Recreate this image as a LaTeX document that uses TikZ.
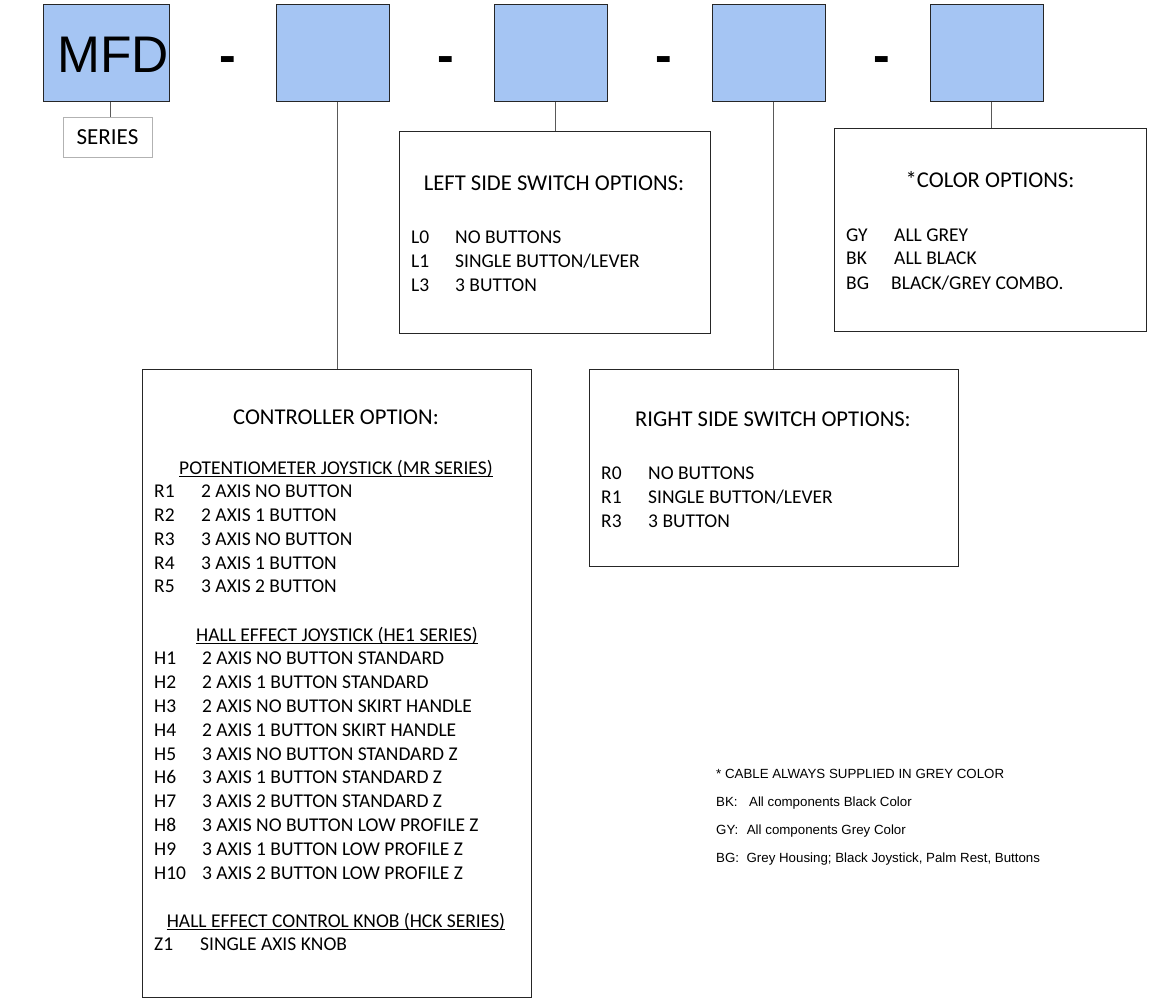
\documentclass[tikz,border=0pt]{standalone}
\usepackage{fontspec}
\setmainfont{Carlito}
\newfontfamily\arialfont{Liberation Sans}
\definecolor{partblue}{RGB}{165,197,243}
\begin{document}
\begin{tikzpicture}[x=1pt,y=-1pt,
  partbox/.style={draw=black!85,line width=1.3pt,fill=partblue,minimum width=113pt,minimum height=97pt,inner sep=0pt,anchor=north west},
  optbox/.style={draw=black!85,line width=1.2pt,inner sep=0pt,anchor=north west},
  opt/.style={anchor=base west,inner sep=0pt,font=\fontsize{19.5}{23}\selectfont},
  ttl/.style={anchor=base,inner sep=0pt,font=\fontsize{22.6}{27}\selectfont},
  note/.style={anchor=base west,inner sep=0pt,font=\arialfont\fontsize{13.3}{16}\selectfont},
  link/.style={draw=black!65,line width=0.9pt}]
 \useasboundingbox[fill=white] (0,0) rectangle (1149,1000);
 % part number boxes
 \node[partbox,minimum width=126pt] (mfd) at (43,4) {};
 \node[anchor=base west,inner sep=0pt,font=\arialfont\fontsize{51.5}{60}\selectfont] (mfdtxt) at (57,73) {MFD};
 \node[partbox] (b2) at (276,4) {}; \node[partbox] (b3) at (494,4) {};
 \node[partbox] (b4) at (712,4) {}; \node[partbox] (b5) at (930,4) {};
 \foreach \x [count=\i] in {228,446,664,882}
  \node[anchor=base,inner sep=0pt,font=\arialfont\bfseries\fontsize{50}{60}\selectfont] (d\i) at (\x,73) {-};
 \node[draw=black!30,line width=0.9pt,minimum width=89pt,minimum height=40pt,inner sep=0pt,font=\fontsize{23}{27}\selectfont] (series) at (107.5,137) {SERIES};
 % option boxes
 \node[optbox,minimum width=311pt,minimum height=202pt] (left) at (399,131) {};
 \node[optbox,minimum width=312pt,minimum height=203pt] (color) at (834,128) {};
 \node[optbox,minimum width=389pt,minimum height=628pt] (ctl) at (142,369) {};
 \node[optbox,minimum width=369pt,minimum height=197pt] (right) at (589,369) {};
 % connectors
 \draw[link] ([xshift=4pt]mfd.south) -- ([xshift=4pt]mfd.south |- series.north);
 \draw[link] ([xshift=4pt]b2.south) -- ([xshift=4pt]b2.south |- ctl.north);
 \draw[link] ([xshift=4pt]b3.south) -- ([xshift=4pt]b3.south |- left.north);
 \draw[link] ([xshift=4pt]b4.south) -- ([xshift=4pt]b4.south |- right.north);
 \draw[link] ([xshift=4pt]b5.south) -- ([xshift=4pt]b5.south |- color.north);
 % left side switch
 \node[ttl] (lttl) at (554,191) {LEFT SIDE SWITCH OPTIONS:};
 \foreach \c/\t [count=\i] in {L0/NO BUTTONS,L1/{SINGLE BUTTON/LEVER},L3/3 BUTTON}{
  \node[opt] (l\i) at (411,{220+24*\i}) {\c}; \node[opt] (lt\i) at (455,{220+24*\i}) {\t};}
 % color
 \node[ttl] (cttl) at (990,188) {*COLOR OPTIONS:};
 \foreach \c/\t/\x/\y [count=\i] in {GY/ALL GREY/894/242,BK/ALL BLACK/894/265,BG/{BLACK/GREY COMBO.}/891/290}{
  \node[opt] (c\i) at (846,\y) {\c}; \node[opt] (ct\i) at (\x,\y) {\t};}
 % right side switch
 \node[ttl] (rttl) at (773,426) {RIGHT SIDE SWITCH OPTIONS:};
 \foreach \c/\t [count=\i] in {R0/NO BUTTONS,R1/{SINGLE BUTTON/LEVER},R3/3 BUTTON}{
  \node[opt] (rr\i) at (601,{455+24*\i}) {\c}; \node[opt] (rrt\i) at (648,{455+24*\i}) {\t};}
 % controller
 \node[ttl] (kttl) at (336,424) {CONTROLLER OPTION:};
 \node[opt,anchor=base] (pot) at (336,474) {POTENTIOMETER JOYSTICK (MR SERIES)};
 \foreach \t [count=\i] in {2 AXIS NO BUTTON,2 AXIS 1 BUTTON,3 AXIS NO BUTTON,3 AXIS 1 BUTTON,3 AXIS 2 BUTTON}{
  \node[opt] (r\i) at (154,{474+23.75*\i}) {R\i}; \node[opt] (rt\i) at (201,{474+23.75*\i}) {\t};}
 \node[opt,anchor=base] (hall) at (337,641) {HALL EFFECT JOYSTICK (HE1 SERIES)};
 \foreach \t [count=\i] in {2 AXIS NO BUTTON STANDARD,2 AXIS 1 BUTTON STANDARD,2 AXIS NO BUTTON SKIRT HANDLE,
   2 AXIS 1 BUTTON SKIRT HANDLE,3 AXIS NO BUTTON STANDARD Z,3 AXIS 1 BUTTON STANDARD Z,3 AXIS 2 BUTTON STANDARD Z,
   3 AXIS NO BUTTON LOW PROFILE Z,3 AXIS 1 BUTTON LOW PROFILE Z,3 AXIS 2 BUTTON LOW PROFILE Z}{
  \node[opt] (h\i) at (154,{641+23.8*\i}) {H\i}; \node[opt] (ht\i) at (202,{641+23.8*\i}) {\t};}
 \node[opt,anchor=base] (knob) at (336,927) {HALL EFFECT CONTROL KNOB (HCK SERIES)};
 \node[opt] (z1) at (154,950) {Z1}; \node[opt] (zt1) at (200,950) {SINGLE AXIS KNOB};
 \foreach \n in {pot,hall,knob}
  \draw[line width=0.8pt] ([yshift=-2pt]\n.base west) -- ([yshift=-2pt]\n.base east);
 % notes
 \node[note] (n1) at (716,778.5) {* CABLE ALWAYS SUPPLIED IN GREY COLOR};
 \node[note] (n2) at (716,806.5) {BK:\hspace{11.5pt}All components Black Color};
 \node[note] (n3) at (716,834.5) {GY:\hspace{8.5pt}All components Grey Color};
 \node[note] (n4) at (716,862.5) {BG:\hspace{7.5pt}Grey Housing; Black Joystick, Palm Rest, Buttons};
\end{tikzpicture}
\end{document}
